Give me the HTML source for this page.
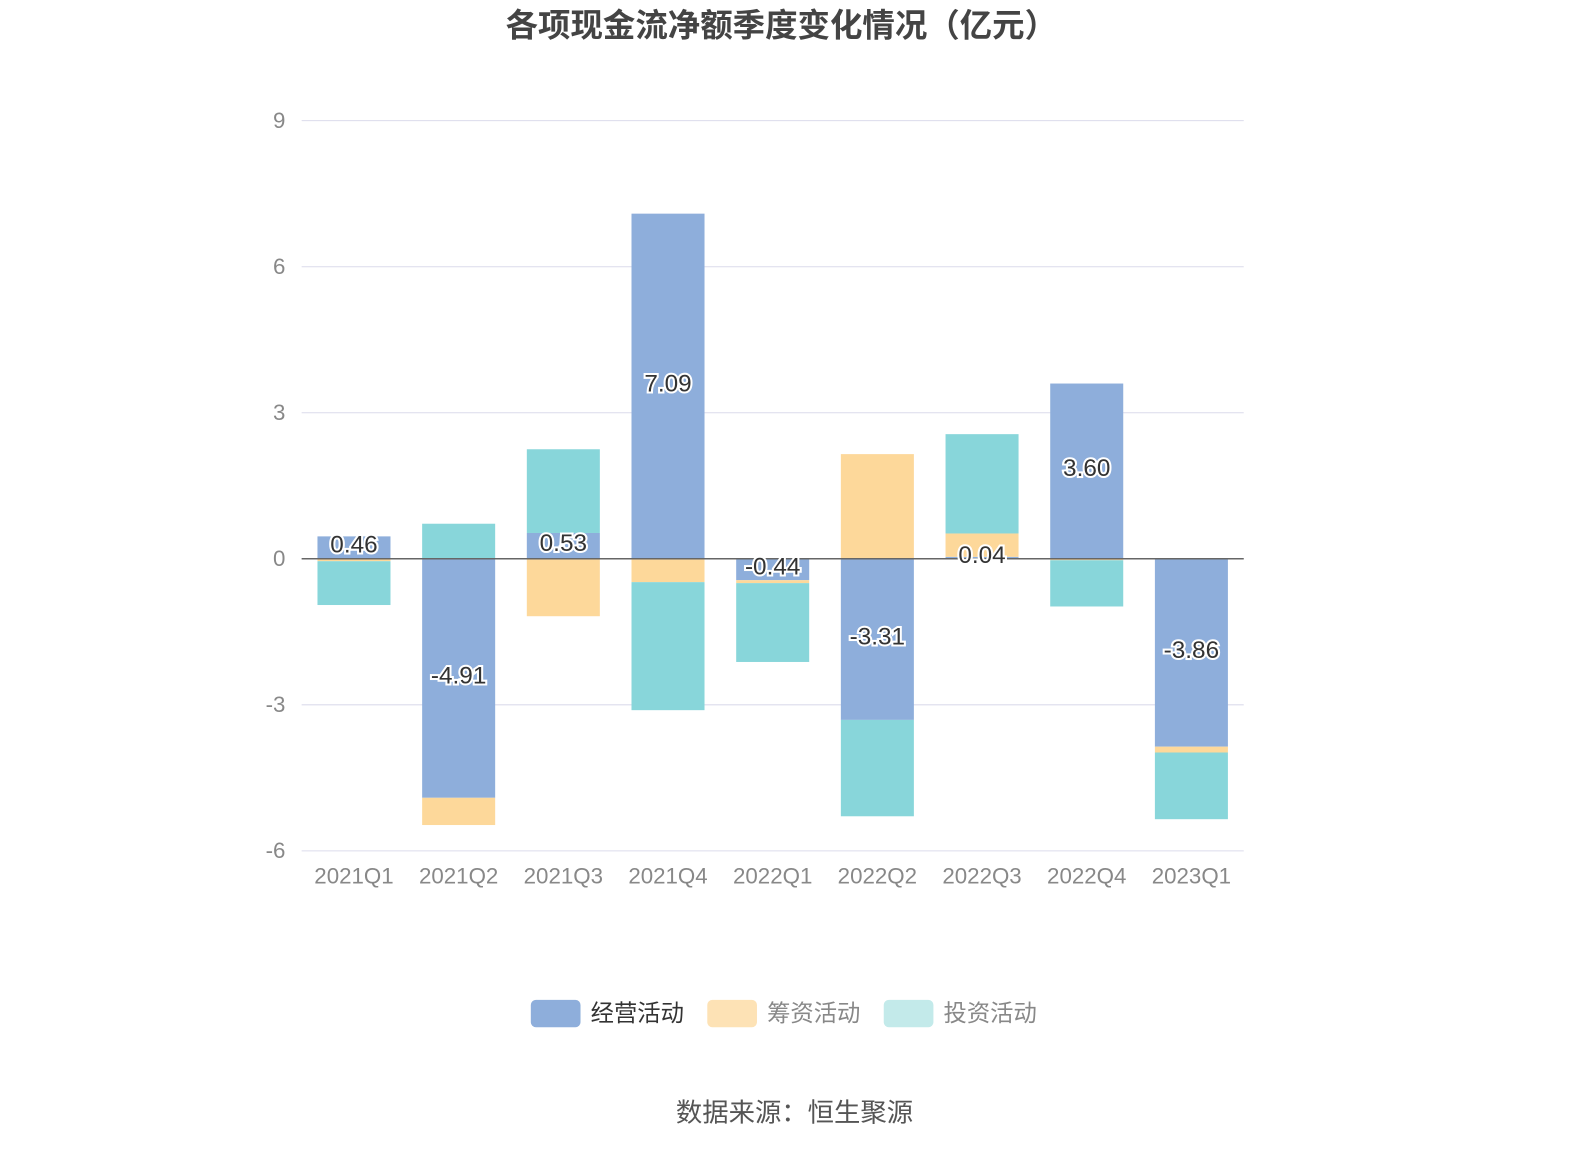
<!DOCTYPE html>
<html><head><meta charset="utf-8">
<style>
body{margin:0;background:#fff;width:1590px;height:1150px;overflow:hidden;font-family:"Liberation Sans","Noto Sans CJK SC",sans-serif;}
</style></head>
<body>
<svg id="chart" width="1590" height="1150" viewBox="0 0 1567 1134" xmlns="http://www.w3.org/2000/svg" font-family="Liberation Sans, Noto Sans CJK SC, sans-serif">
<text x="770" y="36" text-anchor="middle" font-size="32" font-weight="bold" fill="#444">各项现金流净额季度变化情况（亿元）</text>
<g id="grid"></g><g id="bars"></g><g id="labels"></g>
<g>
<g><rect x="523" y="986" width="49" height="27" rx="5" fill="#8eaedb"/><text x="582" y="1007" font-size="23" fill="#333">经营活动</text></g>
<g><rect x="697" y="986" width="49" height="27" rx="5" fill="#fde2b5"/><text x="756" y="1007" font-size="23" fill="#888">筹资活动</text></g>
<g><rect x="871" y="986" width="49" height="27" rx="5" fill="#c3eaea"/><text x="930" y="1007" font-size="23" fill="#888">投资活动</text></g>
</g>
<text x="783" y="1106" text-anchor="middle" font-size="26" fill="#555">数据来源：恒生聚源</text>
</svg>
<script>
const categories=["2021Q1","2021Q2","2021Q3","2021Q4","2022Q1","2022Q2","2022Q3","2022Q4","2023Q1"];
const operating=[0.46,-4.91,0.53,7.09,-0.44,-3.31,0.04,3.60,-3.86];
const financing=[-0.05,-0.56,-1.18,-0.48,-0.06,2.15,0.48,-0.03,-0.12];
const investing=[-0.9,0.72,1.72,-2.63,-1.62,-1.98,2.04,-0.95,-1.37];
const yTicks=[9,6,3,0,-3,-6];
const NS="http://www.w3.org/2000/svg";
const x0=297,x1=1226,yTop=119,yBot=839,vMax=9,vMin=-6;
const y=v=>yTop+(vMax-v)/(vMax-vMin)*(yBot-yTop);
const band=(x1-x0)/categories.length;
const bx=i=>x0+band*i+band/2;
function mk(tag,attrs,parent){const e=document.createElementNS(NS,tag);for(const k in attrs)e.setAttribute(k,attrs[k]);parent.appendChild(e);return e;}
const grid=document.getElementById('grid'),bars=document.getElementById('bars'),labels=document.getElementById('labels');
yTicks.forEach(t=>{
 const l=mk('line',{x1:x0,x2:x1,y1:y(t),y2:y(t),stroke:'#dcdcec','stroke-width':1},grid);
 
 
 const tx=mk('text',{x:281,y:y(t)+7,'text-anchor':'end','font-size':22,fill:'#888'},grid);
 tx.textContent=t;
 
 
});
categories.forEach((c,i)=>{
 const tx=mk('text',{x:bx(i),y:871,'text-anchor':'middle','font-size':22,fill:'#888'},grid);
 tx.textContent=c;
 
 
});
const series=[[operating,'#8eaedb','operating'],[financing,'#fdd89a','financing'],[investing,'#88d6da','investing']];
const bw=72;
categories.forEach((c,i)=>{
 let pos=0,neg=0;
 series.forEach(([arr,col,nm])=>{
  const v=arr[i];let a,b;
  if(v>=0){a=pos;b=pos+v;pos=b;}else{a=neg;b=neg+v;neg=b;}
  const r=mk('rect',{x:bx(i)-bw/2,y:Math.min(y(a),y(b)),width:bw,height:Math.abs(y(a)-y(b)),fill:col},bars);
  
  
 });
 const v=operating[i];
 const t=mk('text',{x:bx(i),y:y(v/2)+5,'text-anchor':'middle','font-size':24,fill:'#333',stroke:'#fff','stroke-width':4,'paint-order':'stroke'},labels);
 t.textContent=v.toFixed(2);
 
 
});
const ax=mk('line',{x1:x0,x2:x1,y1:y(0),y2:y(0),stroke:'#666','stroke-width':1.5},bars);


</script>
</body></html>
